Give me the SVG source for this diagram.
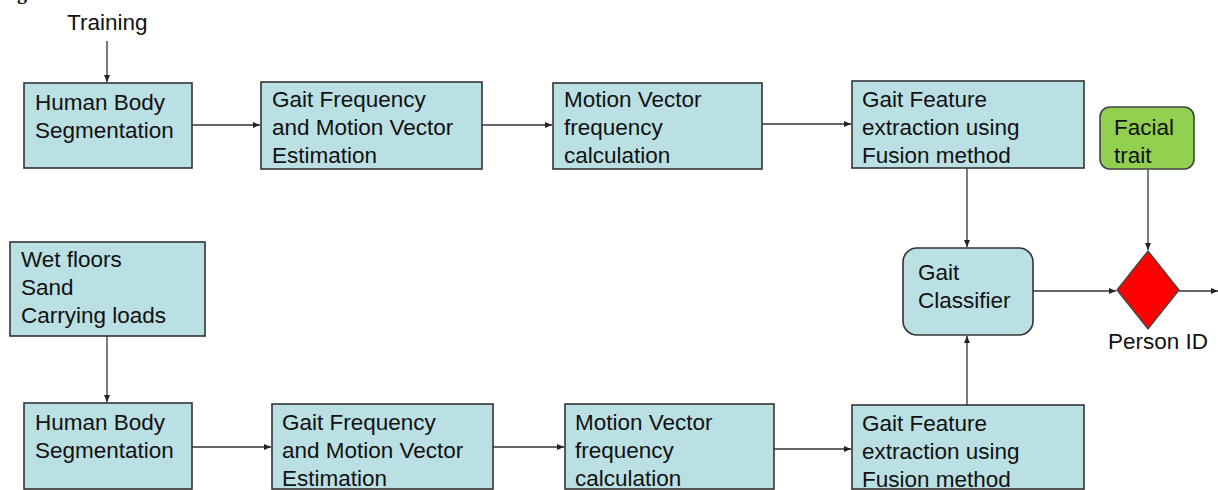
<svg xmlns="http://www.w3.org/2000/svg" width="1218" height="490" viewBox="0 0 1218 490">
<style>
text{font-family:"Liberation Sans",Arial,sans-serif;font-size:22.5px;fill:#111}
.box{fill:#BAE0E3;stroke:#333;stroke-width:1.6}
.green{fill:#92D050;stroke:#444;stroke-width:1.6}
.dia{fill:#FF0000;stroke:#444;stroke-width:1.4}
.c{stroke:#333;stroke-width:1.3;fill:none;marker-end:url(#ah)}
.fig{font-family:"Liberation Serif",serif;font-weight:bold;font-size:20px}
</style>
<defs>
<marker id="ah" markerUnits="userSpaceOnUse" markerWidth="7" markerHeight="7" refX="7" refY="3" orient="auto">
<path d="M0,0 L7,3 L0,6 z" fill="#222"/>
</marker>
</defs>
<rect width="1218" height="490" fill="#fff"/>
<text class="fig" x="17" y="-1">g</text>
<text x="67" y="30">Training</text>

<g id="connectors">
<line class="c" x1="107" y1="41" x2="107" y2="82"/>
<line class="c" x1="192" y1="125" x2="260" y2="125"/>
<line class="c" x1="482" y1="125" x2="552" y2="125"/>
<line class="c" x1="762" y1="124" x2="851" y2="124"/>
<line class="c" x1="967" y1="168" x2="967" y2="247"/>
<line class="c" x1="1148" y1="169" x2="1148" y2="250"/>
<line class="c" x1="1033" y1="291" x2="1116" y2="291"/>
<line class="c" x1="1179" y1="291" x2="1218" y2="291"/>
<line class="c" x1="107" y1="336" x2="107" y2="402"/>
<line class="c" x1="192" y1="447" x2="271" y2="447"/>
<line class="c" x1="493" y1="447" x2="564" y2="447"/>
<line class="c" x1="774" y1="449" x2="851" y2="449"/>
<line class="c" x1="967" y1="405" x2="967" y2="336"/>
</g>

<g id="hbs1"><rect class="box" x="24" y="83" width="168" height="85"/>
<text x="35" y="110">Human Body</text><text x="35" y="138">Segmentation</text></g>
<g id="gfm1"><rect class="box" x="261" y="82" width="221" height="87"/>
<text x="272" y="107">Gait Frequency</text><text x="272" y="135">and Motion Vector</text><text x="272" y="163">Estimation</text></g>
<g id="mvf1"><rect class="box" x="553" y="83" width="209" height="86"/>
<text x="564" y="107">Motion Vector</text><text x="564" y="135">frequency</text><text x="564" y="163">calculation</text></g>
<g id="gfe1"><rect class="box" x="852" y="81" width="232" height="87"/>
<text x="862" y="107">Gait Feature</text><text x="862" y="135">extraction using</text><text x="862" y="163">Fusion method</text></g>
<g id="facial"><rect class="green" x="1100" y="107" width="94" height="62" rx="10"/>
<text x="1114" y="135">Facial</text><text x="1114" y="163">trait</text></g>
<g id="classifier"><rect class="box" x="903" y="248" width="130" height="87" rx="14"/>
<text x="918" y="280">Gait</text><text x="918" y="308">Classifier</text></g>
<g id="personid"><polygon class="dia" points="1148,251 1179,290 1148,329 1117,290"/>
<text x="1108" y="349">Person ID</text></g>
<g id="wet"><rect class="box" x="10" y="242" width="195" height="94"/>
<text x="21" y="267">Wet floors</text><text x="21" y="295">Sand</text><text x="21" y="323">Carrying loads</text></g>
<g id="hbs2"><rect class="box" x="24" y="403" width="168" height="86"/>
<text x="35" y="430">Human Body</text><text x="35" y="458">Segmentation</text></g>
<g id="gfm2"><rect class="box" x="272" y="404" width="221" height="85"/>
<text x="282" y="430">Gait Frequency</text><text x="282" y="458">and Motion Vector</text><text x="282" y="486">Estimation</text></g>
<g id="mvf2"><rect class="box" x="565" y="404" width="209" height="85"/>
<text x="575" y="430">Motion Vector</text><text x="575" y="458">frequency</text><text x="575" y="486">calculation</text></g>
<g id="gfe2"><rect class="box" x="852" y="405" width="232" height="84"/>
<text x="862" y="431">Gait Feature</text><text x="862" y="459">extraction using</text><text x="862" y="487">Fusion method</text></g>
</svg>
